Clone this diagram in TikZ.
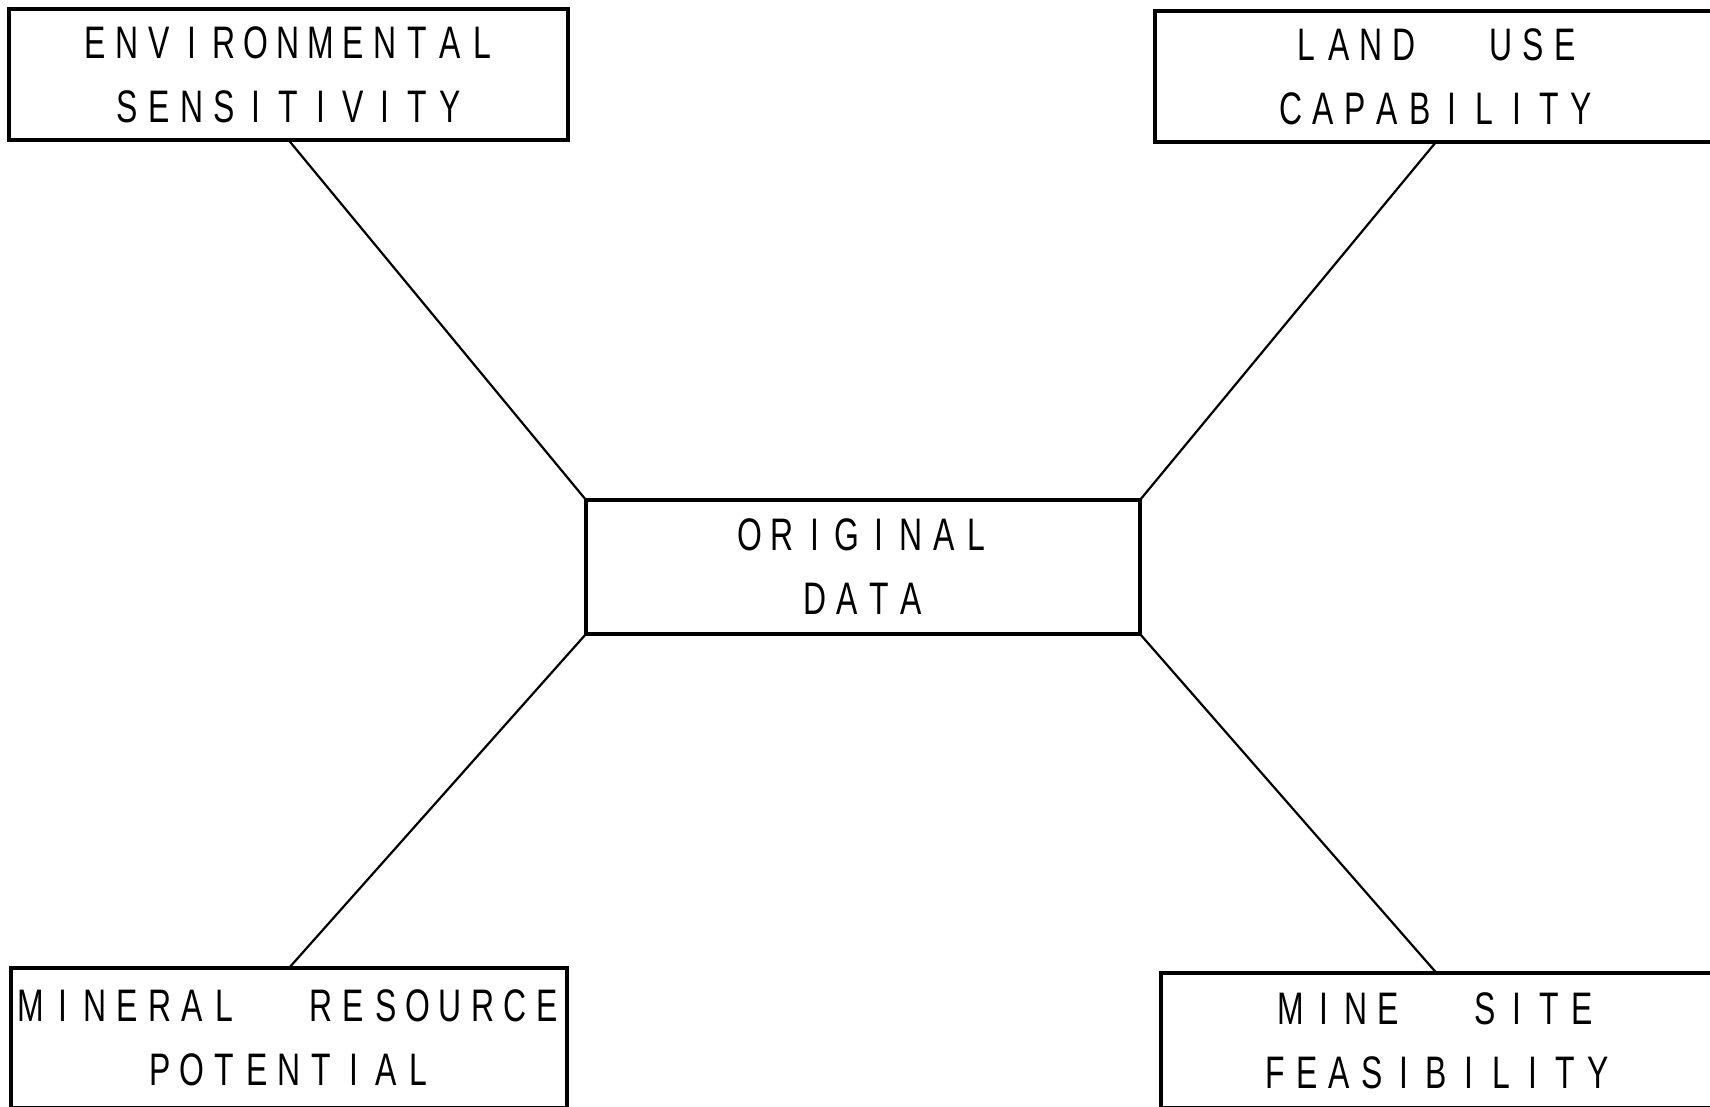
\documentclass[tikz,border=0pt]{standalone}
\usepackage{fontspec}
\newfontfamily\typefont[FakeStretch=0.7]{Liberation Sans}
\newlength\pitch
\setlength\pitch{16.15pt}
\makeatletter
% set a word on a fixed typewriter pitch, one box per character (~ is a blank)
\def\spaced#1{\spaced@loop#1\relax}
\def\spaced@loop#1{\ifx#1\relax\else\makebox[\pitch]{#1}\expandafter\spaced@loop\fi}
\makeatother
\begin{document}
\begin{tikzpicture}[x=0.5pt,y=-0.5pt,
  box/.style={draw, line width=1.8pt, inner sep=0pt, outer sep=0pt, align=center,
    font=\typefont\fontsize{22.8pt}{32pt}\selectfont},
  link/.style={line width=1.1pt}]
\useasboundingbox (0,0) rectangle (1710,1107);
\clip (0,0) rectangle (1710,1107);

\node[box, minimum width=279.5pt, minimum height=65.5pt] (env) at (288.5,74.5)
  {\spaced{ENVIRONMENTAL}\\\spaced{SENSITIVITY}};
\node[box, minimum width=281pt, minimum height=65.5pt] (land) at (1436,76.5)
  {\spaced{LAND~~USE}\\\spaced{CAPABILITY}};
\node[box, minimum width=277pt, minimum height=67pt] (orig) at (863,567)
  {\spaced{ORIGINAL}\\\spaced{DATA}};
\node[box, minimum width=278pt, minimum height=70pt] (mineral) at (289,1038)
  {\spaced{MINERAL~~RESOURCE}\\\spaced{POTENTIAL}};
\node[box, minimum width=275.5pt, minimum height=67.5pt] (mine) at (1436.5,1040.5)
  {\spaced{MINE~~SITE}\\\spaced{FEASIBILITY}};

\draw[link] (env.south) -- (orig.north west);
\draw[link] (land.south) -- (orig.north east);
\draw[link] (mineral.north) -- (orig.south west);
\draw[link] (mine.north) -- (orig.south east);
\end{tikzpicture}
\end{document}
